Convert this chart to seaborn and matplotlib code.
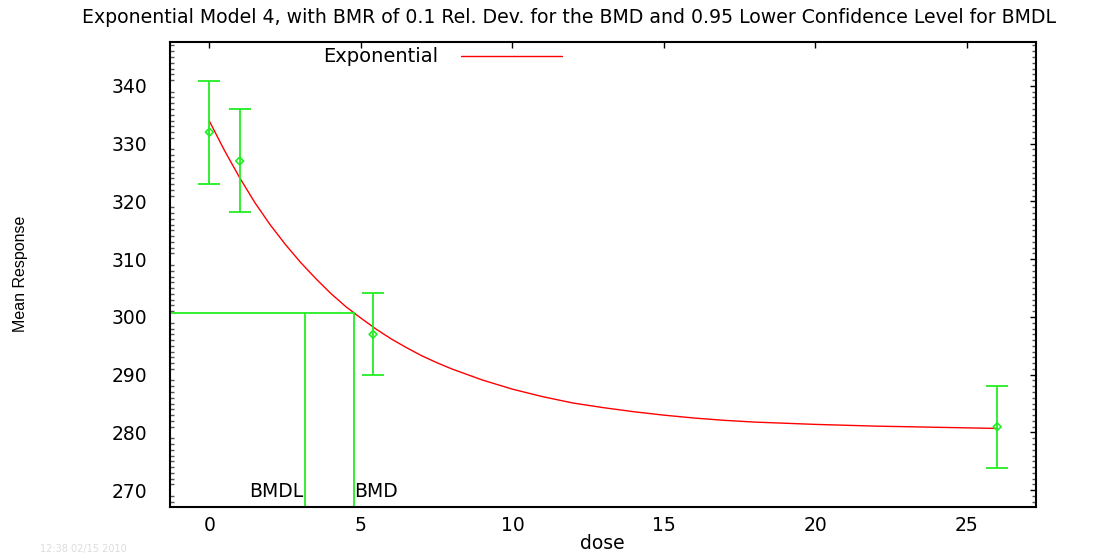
import numpy as np
import pandas as pd
import matplotlib
matplotlib.use("Agg")
import matplotlib.pyplot as plt
from matplotlib.ticker import MultipleLocator
import seaborn as sns

# Observed data (dose, mean, lower, upper)
dose = [0, 1, 5.4, 26]
mean_resp = [332, 327, 297, 281]
lower = [323.1, 318.1, 289.9, 273.9]
upper = [340.9, 336.0, 304.1, 288.1]

# Fitted model curve
curve_dose = [0, 0.5, 1, 1.5, 2, 2.5, 3, 3.5, 4, 4.5, 5, 5.5, 6, 6.5, 7, 7.5, 8, 9, 10,
              11, 12, 13, 14, 15, 16, 17, 18, 19, 20, 22, 24, 26]
curve_resp = [333.9, 328.8, 324.1, 319.8, 316.0, 312.6, 309.5, 306.7, 304.1, 301.8, 299.8,
              297.9, 296.2, 294.7, 293.3, 292.1, 291.0, 289.1, 287.5,
              286.2, 285.1, 284.3, 283.6, 283.0, 282.5, 282.1, 281.8, 281.6, 281.4, 281.1, 280.9, 280.7]

bmd = 4.78
bmdl = 3.15
bmr_level = 300.7

title = "Exponential Model 4, with BMR of 0.1 Rel. Dev. for the BMD and 0.95 Lower Confidence Level for BMDL"

sns.set_style("white")
plt.rcParams['font.family'] = ['DejaVu Sans']
plt.rcParams['text.color'] = 'black'

fig = plt.figure(figsize=(10.97, 5.55), dpi=100)
ax = fig.add_axes([170/1097, 1-507/555, (1036-170)/1097, (507-42)/555])

green = "#22ee22"
fs = 13.5

df_curve = pd.DataFrame({"dose": curve_dose, "resp": curve_resp})
sns.lineplot(data=df_curve, x="dose", y="resp", ax=ax, color="red", linewidth=1.0,
             label="Exponential", sort=True, estimator=None)

yerr = [np.array(mean_resp) - np.array(lower), np.array(upper) - np.array(mean_resp)]
ax.errorbar(dose, mean_resp, yerr=yerr, fmt="none", ecolor=green, elinewidth=1.3,
            capsize=7.6, capthick=1.3, zorder=3)
df_pts = pd.DataFrame({"dose": dose, "mean": mean_resp})
sns.scatterplot(data=df_pts, x="dose", y="mean", ax=ax, marker="D", s=16,
                facecolor="none", edgecolor=green, linewidth=1.2, zorder=4, legend=False)

# BMD / BMDL lines
xmin, xmax = -1.3, 27.28
ymin, ymax = 267.1, 347.6
ax.plot([xmin, bmd], [bmr_level, bmr_level], color=green, linewidth=1.3)
ax.plot([bmdl, bmdl], [ymin, bmr_level], color=green, linewidth=1.3)
ax.plot([bmd, bmd], [ymin, bmr_level], color=green, linewidth=1.3)
ax.text(bmdl - 0.05, 269.7, "BMDL", ha="right", va="center", fontsize=fs, color="black")
ax.text(bmd, 269.7, "BMD", ha="left", va="center", fontsize=fs, color="black")

ax.set_xlim(xmin, xmax)
ax.set_ylim(ymin, ymax)
ax.xaxis.set_major_locator(MultipleLocator(5))
ax.yaxis.set_major_locator(MultipleLocator(10))
ax.yaxis.set_minor_locator(MultipleLocator(1))
ax.tick_params(axis="both", which="major", direction="in", length=4.6, width=1,
               top=True, right=True, labelsize=fs, colors="black")
ax.tick_params(axis="y", which="minor", direction="in", length=3, width=1,
               left=True, right=True, color="#555555")
ax.tick_params(axis="x", which="both", pad=6.5)
ax.tick_params(axis="y", which="both", pad=16.5)
for s in ax.spines.values():
    s.set_color("black")
    s.set_linewidth(1.5)

ax.set_xlabel("")
ax.set_ylabel("")
fig.text(602.5/1097, 1-543.5/555, "dose", ha="center", va="center", fontsize=fs)
fig.text(21/1097, 1-273.5/555, "Mean Response", ha="center", va="center", rotation=90,
         fontsize=11.5, family=["Liberation Sans", "DejaVu Sans"])
fig.text(82/1097, 1-23/555, title, ha="left", va="baseline", fontsize=13.6)
fig.text(40/1097, 1/555, "12:38 02/15 2010", ha="left", va="bottom", fontsize=7, color="#dddddd")

leg = ax.legend(loc="upper left", bbox_to_anchor=((323-170-8)/866, 1.005), frameon=False,
                markerfirst=False, handlelength=5.2, fontsize=14, borderaxespad=0,
                handletextpad=1.2)

fig.savefig("out.png", dpi=100)
